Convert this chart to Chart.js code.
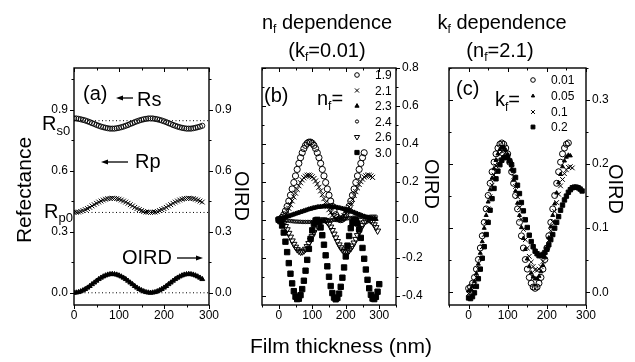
<!DOCTYPE html>
<html><head><meta charset="utf-8">
<script src="https://cdn.jsdelivr.net/npm/chart.js@4.4.1/dist/chart.umd.min.js"></script>
<style>
html,body{margin:0;padding:0;background:#fff;}
#wrap{position:relative;width:635px;height:362px;background:#fff;}
canvas{position:absolute;left:0;top:0;}
</style></head><body>
<div id="wrap">
<canvas id="ca" width="635" height="362"></canvas>
<canvas id="cb" width="635" height="362"></canvas>
<canvas id="cc" width="635" height="362"></canvas>
</div>
<script>
// ---------- data ----------
const THICKNESS = [0,5,10,15,20,25,30,35,40,45,50,55,60,65,70,75,80,85,90,95,100,105,110,115,120,125,130,135,140,145,150,155,160,165,170,175,180,185,190,195,200,205,210,215,220,225,230,235,240,245,250,255,260,265,270,275,280,285,290,295,300];

// panel (a)
const RS_A = [.857,.857,.855,.853,.850,.847,.843,.839,.834,.830,.825,.821,.817,.814,.811,.809,.807,.807,.807,.809,.811,.814,.817,.821,.825,.830,.834,.839,.843,.847,.850,.853,.855,.857,.857,.857,.855,.853,.850,.847,.843,.839,.834,.830,.825,.821,.817,.814,.811,.809,.807,.807,.807,.809,.811,.814,.817,.821];
const RP_A = [.395,.396,.397,.400,.404,.409,.414,.420,.427,.433,.440,.446,.451,.456,.460,.463,.464,.465,.464,.463,.460,.456,.451,.446,.440,.433,.427,.420,.414,.409,.404,.400,.397,.396,.395,.396,.397,.400,.404,.409,.414,.420,.427,.433,.440,.446,.451,.456,.460,.463,.464,.465,.464,.463,.460,.456,.451,.446];
const OIRD_A = [0,.001,.003,.007,.012,.018,.025,.033,.042,.050,.059,.067,.074,.080,.085,.089,.091,.092,.091,.089,.085,.080,.074,.067,.059,.050,.042,.033,.025,.018,.012,.007,.003,.001,0,.001,.003,.007,.012,.018,.025,.033,.042,.050,.059,.067,.074,.080,.085,.089,.091,.092,.091,.089,.085,.080,.074,.067];
const REF_LEVELS_A = [0.846, 0.395, 0.0];   // Rs0, Rp0, zero
const REF_X_A = [0, 300];

// panel (b): nf dependence (kf = 0.01)
const NF_LABELS = ["1.9","2.1","2.3","2.4","2.6","3.0"];
const B_19 = [0,.003,.012,.026,.046,.070,.098,.129,.162,.196,.231,.265,.297,.327,.353,.375,.392,.403,.409,.409,.403,.392,.375,.353,.327,.297,.265,.231,.196,.162,.129,.098,.070,.046,.026,.012,.003,0,.003,.012,.026,.046,.070,.098,.129,.162,.196,.231,.265,.297,.327,.353];
const B_21 = [0,.002,.007,.016,.028,.043,.060,.079,.099,.120,.140,.160,.179,.195,.210,.221,.229,.234,.235,.232,.226,.217,.204,.189,.171,.152,.132,.111,.091,.071,.053,.037,.023,.012,.005,.001,0,.004,.010,.021,.034,.049,.067,.087,.107,.128,.148,.168,.186,.201,.214,.225,.231,.235,.234,.230,.223];
const B_23 = [0,.003,.006,.009,.012,.016,.019,.022,.025,.028,.031,.034,.037,.040,.043,.046,.049,.052,.055,.057,.060,.062,.064,.066,.067,.068,.069,.070,.070,.070,.070,.069,.068,.067,.066,.064,.062,.060,.058,.056,.053,.050,.047,.044,.041,.038,.034,.031,.027,.024,.020,.017,.014,.011,.009,.007,.005,.004,.003];
const B_24 = [0,-.001,-.002,-.003,-.004,-.005,-.006,-.007,-.008,-.009,-.010,-.010,-.011,-.011,-.012,-.012,-.012,-.012,-.012,-.012,-.012,-.011,-.011,-.010,-.010,-.009,-.008,-.007,-.006,-.005,-.004,-.003,-.002,-.001,0,.001,.002,.003,.004,.005,.006,.007,.008,.009,.010,.011,.012,.013,.013,.014,.014,.015,.015,.015,.015,.016,.016,.016,.016];
const B_26 = [0,-.002,-.009,-.020,-.035,-.052,-.071,-.091,-.111,-.129,-.144,-.157,-.165,-.170,-.169,-.164,-.155,-.141,-.125,-.107,-.087,-.067,-.048,-.032,-.018,-.007,-.001,0,-.003,-.011,-.023,-.038,-.056,-.075,-.095,-.114,-.132,-.147,-.159,-.167,-.170,-.169,-.163,-.152,-.138,-.122,-.103,-.083,-.063,-.045,-.029,-.015,-.006,-.001,0,-.005,-.013,-.026,-.041,-.059];
const B_30 = [0,-.008,-.031,-.068,-.116,-.171,-.229,-.285,-.336,-.377,-.406,-.419,-.417,-.398,-.366,-.322,-.269,-.212,-.154,-.101,-.056,-.023,-.004,-.001,-.013,-.041,-.082,-.132,-.188,-.246,-.301,-.350,-.387,-.411,-.420,-.413,-.390,-.354,-.306,-.252,-.194,-.137,-.086,-.045,-.016,-.001,-.003,-.020,-.052,-.096,-.149,-.206,-.263,-.317,-.362,-.396,-.416,-.419,-.407,-.380,-.340];

// panel (c): kf dependence (nf = 2.1)
const KF_LABELS = ["0.01","0.05","0.1","0.2"];
const C_001 = [.006,.008,.014,.023,.036,.051,.069,.088,.109,.130,.151,.170,.188,.203,.216,.225,.231,.233,.231,.225,.216,.203,.188,.170,.151,.130,.109,.088,.069,.051,.036,.023,.014,.008,.006,.008,.014,.023,.036,.051,.069,.088,.109,.130,.151,.170,.188,.203,.216,.225,.231,.233];
const C_005 = [.002,.004,.009,.017,.029,.044,.061,.079,.100,.120,.141,.160,.178,.193,.206,.216,.223,.226,.226,.222,.215,.204,.191,.175,.158,.139,.120,.101,.084,.067,.052,.040,.030,.024,.021,.021,.025,.032,.042,.054,.069,.085,.102,.120,.138,.155,.171,.184,.196,.205,.211,.214,.213];
const C_01 = [-.002,-.001,.004,.011,.023,.036,.053,.071,.090,.110,.130,.149,.167,.183,.197,.207,.215,.220,.221,.218,.213,.204,.194,.180,.165,.149,.132,.114,.098,.082,.069,.056,.047,.040,.035,.034,.036,.040,.048,.057,.068,.081,.096,.110,.126,.140,.153,.166,.176,.185,.191,.195,.196,.194];
const C_02 = [-.009,-.010,-.007,-.001,.009,.021,.036,.053,.071,.090,.109,.128,.146,.162,.177,.189,.199,.206,.210,.211,.210,.205,.199,.190,.179,.167,.154,.140,.127,.113,.101,.089,.079,.071,.064,.060,.057,.057,.059,.062,.067,.074,.082,.090,.100,.109,.118,.128,.136,.144,.150,.156,.160,.163,.164,.164,.163,.161,.158];

// ticks
const X_LABELS = [0,100,200,300];
const X_TICKS_A = [0,50,100,150,200,250,300];
const X_TICKS_B = [-50,0,50,100,150,200,250,300,350];
const X_TICKS_C = [-50,0,50,100,150,200,250,300];
const Y_LABELS_A = [0,0.3,0.6,0.9];
const Y_TICKS_A = [0,0.15,0.3,0.45,0.6,0.75,0.9,1.05];
const Y_LABELS_B = [-0.4,-0.2,0,0.2,0.4,0.6,0.8];
const Y_TICKS_B = [-0.4,-0.3,-0.2,-0.1,0,0.1,0.2,0.3,0.4,0.5,0.6,0.7,0.8];
const Y_LABELS_C = [0,0.1,0.2,0.3];
const Y_TICKS_C = [0,0.05,0.1,0.15,0.2,0.25,0.3,0.35];

// ---------- helpers ----------
const FONT = "'Liberation Sans', Arial, Helvetica, sans-serif";
Chart.defaults.font.family = FONT;
Chart.defaults.color = '#000';
const pts = vals => vals.map((v,i)=>({x:THICKNESS[i], y:v}));
const NONE = 'rgba(0,0,0,0)';

function axis(pos, min, max, labels, size, fmt) {
  const hor = pos === 'bottom';
  return {
    type:'linear', position:pos, min:min, max:max,
    grid:{display:false, drawTicks:false, tickLength:0}, border:{display:false},
    ticks:{color:'#000', font:{size:12, family:FONT}, padding: hor?3:6, autoSkip:false, maxRotation:0, minRotation:0, callback: fmt},
    afterBuildTicks: s => { s.ticks = labels.map(v=>({value:v})); },
    afterFit: s => { if (hor) s.height = size; else s.width = size; }
  };
}
const fx = v => String(Math.round(v));
const fy = v => (Math.abs(v)<1e-9?0:v).toFixed(1);

function isMajor(v, majors){ return majors.some(m=>Math.abs(m-v)<1e-9); }

function drawSegs(ctx, it) {
  const widths = it.segs.map(s => { ctx.font = s[1]+'px '+FONT; return ctx.measureText(s[0]).width; });
  const total = widths.reduce((a,b)=>a+b,0);
  ctx.save();
  ctx.translate(it.x, it.y);
  if (it.rot) ctx.rotate(it.rot);
  let x0 = it.align==='center' ? -total/2 : (it.align==='right' ? -total : 0);
  ctx.textBaseline='alphabetic'; ctx.textAlign='left'; ctx.fillStyle='#000';
  it.segs.forEach((s,i)=>{ ctx.font = s[1]+'px '+FONT; ctx.fillText(s[0], x0, s[2]||0); x0 += widths[i]; });
  ctx.restore();
}

function arrow(ctx, x1, y, x2) {
  const dir = Math.sign(x2-x1);
  ctx.save();
  ctx.strokeStyle='#000'; ctx.fillStyle='#000'; ctx.lineWidth=1.3;
  ctx.beginPath(); ctx.moveTo(x1,y); ctx.lineTo(x2-dir*5,y); ctx.stroke();
  ctx.beginPath(); ctx.moveTo(x2,y); ctx.lineTo(x2-dir*7,y-2.6); ctx.lineTo(x2-dir*7,y+2.6); ctx.closePath(); ctx.fill();
  ctx.restore();
}

const decoPlugin = {
  id:'deco',
  afterDatasetsDraw(chart, args, o) {
    const ctx = chart.ctx, ca = chart.chartArea;
    const xs = chart.scales.x, ys = chart.scales[o.yId];
    ctx.save();
    ctx.strokeStyle='#000'; ctx.lineWidth=1.4;
    ctx.strokeRect(ca.left, ca.top, ca.right-ca.left, ca.bottom-ca.top);
    ctx.lineWidth=1;
    ctx.beginPath();
    o.xTicks.forEach(v=>{
      const p = Math.round(xs.getPixelForValue(v))+0.5;
      const L = isMajor(v, X_LABELS) ? 4 : 2.5;
      ctx.moveTo(p, ca.bottom); ctx.lineTo(p, ca.bottom+L);
      ctx.moveTo(p, ca.top); ctx.lineTo(p, ca.top+L);
    });
    o.yTicks.forEach(v=>{
      const p = Math.round(ys.getPixelForValue(v))+0.5;
      const L = isMajor(v, o.yMajor) ? 4 : 2.5;
      ctx.moveTo(ca.right, p); ctx.lineTo(ca.right+L, p);
      if (o.leftOut) { ctx.moveTo(ca.left, p); ctx.lineTo(ca.left-L, p); }
      else { ctx.moveTo(ca.left, p); ctx.lineTo(ca.left+L, p); }
    });
    ctx.stroke();
    ctx.restore();
  },
  afterDraw(chart, args, o) {
    const ctx = chart.ctx;
    (o.texts||[]).forEach(t=>drawSegs(ctx,t));
    (o.arrows||[]).forEach(a=>arrow(ctx,a[0],a[1],a[2]));
    if (o.legend) {
      const lg = o.legend;
      lg.items.forEach((it,i)=>{
        const y = lg.ys[i];
        ctx.save();
        ctx.fillStyle = it.fill; ctx.strokeStyle='#000'; ctx.lineWidth = 1;
        Chart.helpers.drawPoint(ctx, {pointStyle:it.style, radius:it.r, rotation:it.rot||0, borderWidth:1}, lg.mx, y);
        ctx.restore();
        drawSegs(ctx, {x:lg.tx, y:y+4.3, segs:[[it.label,12,0]], align:'left'});
      });
    }
  }
};

function ds(label, vals, style, r, filled, extra) {
  return Object.assign({
    label, data: pts(vals), showLine:false,
    pointStyle: style, pointRadius: r, pointHoverRadius: r,
    pointBorderColor:'#000', pointBackgroundColor: filled ? '#000' : NONE,
    pointBorderWidth: 1, borderColor:'#000', backgroundColor: filled ? '#000' : NONE
  }, extra||{});
}

const baseOpts = (padding) => ({
  responsive:false, animation:false, devicePixelRatio:1, events:[],
  layout:{padding},
  plugins:{legend:{display:false}, tooltip:{enabled:false}}
});

// ---------- panel (a) ----------
const refSets = REF_LEVELS_A.map(l => ({
  label:'ref', data: REF_X_A.map(x=>({x, y:l})), showLine:true, pointRadius:0,
  borderColor:'#000', borderWidth:1, borderDash:[1,2.5], fill:false
}));
const optA = baseOpts({left:40, right:396, top:68, bottom:37});
optA.scales = {
  x: axis('bottom', 0, 300, X_LABELS, 20, fx),
  y: axis('left', -0.06, 1.105, Y_LABELS_A, 34, fy),
  y2: axis('right', -0.06, 1.105, Y_LABELS_A, 30, fy)
};
optA.plugins.deco = {
  yId:'y', xTicks:X_TICKS_A, yTicks:Y_TICKS_A, yMajor:Y_LABELS_A, leftOut:true,
  texts:[
    {x:83, y:100, segs:[["(a)",20,0]]},
    {x:137, y:106, segs:[["Rs",20,0]]},
    {x:135, y:168, segs:[["Rp",20,0]]},
    {x:122, y:264, segs:[["OIRD",20,0]]},
    {x:42, y:130, segs:[["R",20,0],["s0",13,5]]},
    {x:44, y:218, segs:[["R",20,0],["p0",13,4]]},
    {x:31, y:190, rot:-Math.PI/2, align:'center', segs:[["Refectance",21,0]]},
    {x:235, y:196, rot:Math.PI/2, align:'center', segs:[["OIRD",20,0]]}
  ],
  arrows:[[133,98,116],[128,162,101],[177,258,203]]
};
new Chart(document.getElementById('ca'), {
  type:'scatter',
  data:{datasets:[
    ...refSets,
    ds('Rs', RS_A, 'circle', 2.6, false, {pointBorderWidth:0.9}),
    ds('Rp', RP_A, 'crossRot', 3.4, false),
    ds('OIRD', OIRD_A, 'triangle', 2.8, true, {yAxisID:'y2'})
  ]},
  options: optA,
  plugins:[decoPlugin]
});

// ---------- panel (b) ----------
const optB = baseOpts({left:262, right:209, top:68, bottom:37});
optB.scales = {
  x: axis('bottom', -50, 350, X_LABELS, 20, fx),
  y: axis('right', -0.45, 0.8, Y_LABELS_B, 30, fy)
};
optB.plugins.deco = {
  yId:'y', xTicks:X_TICKS_B, yTicks:Y_TICKS_B, yMajor:Y_LABELS_B, leftOut:false,
  texts:[
    {x:327, y:29, align:'center', segs:[["n",20,0],["f",12,4],[" dependence",20,0]]},
    {x:327, y:57, align:'center', segs:[["(k",20,0],["f",12,4],["=0.01)",20,0]]},
    {x:264, y:102, segs:[["(b)",20,0]]},
    {x:317, y:105, segs:[["n",20,0],["f",12,5],["=",20,0]]},
    {x:425, y:184, rot:Math.PI/2, align:'center', segs:[["OIRD",20,0]]},
    {x:341, y:353, align:'center', segs:[["Film thickness (nm)",21,0]]}
  ],
  legend:{mx:357, tx:375, ys:[75,90.5,106,121.5,137,152.5], items:[
    {label:NF_LABELS[0], style:'circle', r:2.3, fill:NONE},
    {label:NF_LABELS[1], style:'crossRot', r:2.9, fill:NONE},
    {label:NF_LABELS[2], style:'triangle', r:2.4, fill:'#000'},
    {label:NF_LABELS[3], style:'circle', r:1.6, fill:NONE},
    {label:NF_LABELS[4], style:'triangle', r:3, fill:NONE, rot:180},
    {label:NF_LABELS[5], style:'rect', r:3, fill:'#000'}
  ]}
};
new Chart(document.getElementById('cb'), {
  type:'scatter',
  data:{datasets:[
    ds(NF_LABELS[0], B_19, 'circle', 3.1, false),
    ds(NF_LABELS[1], B_21, 'crossRot', 3.6, false),
    ds(NF_LABELS[2], B_23, 'triangle', 2.6, true),
    ds(NF_LABELS[3], B_24, 'circle', 1.7, false, {pointBorderWidth:0.9}),
    ds(NF_LABELS[4], B_26, 'triangle', 3.6, false, {pointRotation:180}),
    ds(NF_LABELS[5], B_30, 'rect', 3.8, true)
  ]},
  options: optB,
  plugins:[decoPlugin]
});

// ---------- panel (c) ----------
const optC = baseOpts({left:449, right:19, top:68, bottom:37});
optC.scales = {
  x: axis('bottom', -50, 300, X_LABELS, 20, fx),
  y: axis('right', -0.02, 0.35, Y_LABELS_C, 30, fy)
};
optC.plugins.deco = {
  yId:'y', xTicks:X_TICKS_C, yTicks:Y_TICKS_C, yMajor:Y_LABELS_C, leftOut:false,
  texts:[
    {x:502, y:29, align:'center', segs:[["k",20,0],["f",12,4],[" dependence",20,0]]},
    {x:500, y:57, align:'center', segs:[["(n",20,0],["f",12,4],["=2.1)",20,0]]},
    {x:456, y:95, segs:[["(c)",20,0]]},
    {x:495, y:106, segs:[["k",20,0],["f",12,5],["=",20,0]]},
    {x:609, y:189, rot:Math.PI/2, align:'center', segs:[["OIRD",20,0]]}
  ],
  legend:{mx:533, tx:551, ys:[80,96,112,127], items:[
    {label:KF_LABELS[0], style:'circle', r:2.3, fill:NONE},
    {label:KF_LABELS[1], style:'triangle', r:1.9, fill:'#000'},
    {label:KF_LABELS[2], style:'crossRot', r:2.7, fill:NONE},
    {label:KF_LABELS[3], style:'rect', r:2.7, fill:'#000'}
  ]}
};
new Chart(document.getElementById('cc'), {
  type:'scatter',
  data:{datasets:[
    ds(KF_LABELS[0], C_001, 'circle', 3, false),
    ds(KF_LABELS[1], C_005, 'triangle', 2.3, true),
    ds(KF_LABELS[2], C_01, 'crossRot', 3.3, false),
    ds(KF_LABELS[3], C_02, 'rect', 3.1, true)
  ]},
  options: optC,
  plugins:[decoPlugin]
});
</script>
</body></html>
